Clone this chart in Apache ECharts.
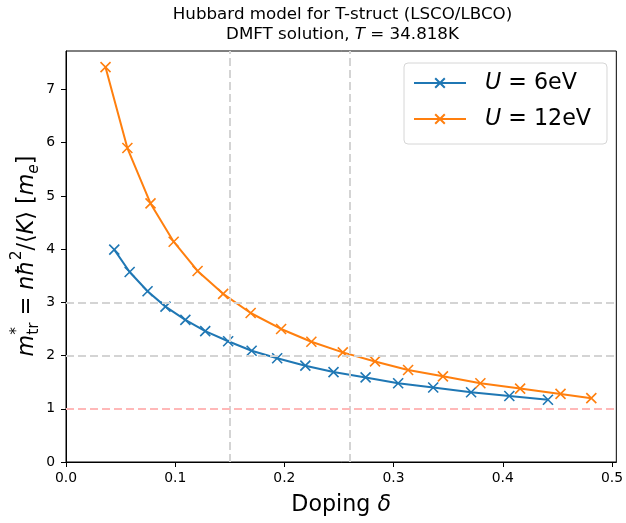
<!DOCTYPE html>
<html>
<head>
<meta charset="utf-8">
<script src="https://cdn.jsdelivr.net/npm/echarts@6/dist/echarts.min.js"></script>
<style>
  html, body { margin: 0; padding: 0; background: #fff; }
  #chart { width: 626px; height: 523px; }
</style>
</head>
<body>
<div id="chart"></div>
<script>
// Effective transport mass vs. hole doping, DMFT results for two Hubbard U values
const dopingU6 = [0.0442, 0.0583, 0.0747, 0.0911, 0.1093, 0.1275, 0.1485, 0.1700, 0.1934,
                  0.2192, 0.2450, 0.2744, 0.3042, 0.3363, 0.3710, 0.4060, 0.4414];
const massU6   = [3.99, 3.57, 3.21, 2.92, 2.67, 2.46, 2.27, 2.09, 1.95,
                  1.81, 1.69, 1.59, 1.48, 1.40, 1.31, 1.24, 1.17];
const dopingU12 = [0.0362, 0.0562, 0.0774, 0.0986, 0.1205, 0.1439, 0.1691, 0.1970, 0.2247,
                   0.2535, 0.2830, 0.3133, 0.3452, 0.3795, 0.4159, 0.4529, 0.4811];
const massU12   = [7.42, 5.90, 4.86, 4.14, 3.59, 3.16, 2.80, 2.50, 2.26,
                   2.06, 1.89, 1.73, 1.61, 1.48, 1.38, 1.28, 1.20];
const seriesNames = ['U = 6eV', 'U = 12eV'];
const xTicks = [0, 0.1, 0.2, 0.3, 0.4, 0.5];
const yTicks = [0, 1, 2, 3, 4, 5, 6, 7];
const guideDoping = [0.15, 0.26];   // vertical guides
const guideMass = [2, 3];           // horizontal guides
const bareMass = 1;                 // m* = m_e reference

const FONT = 'DejaVu Sans';
const BLUE = '#1f77b4';
const ORANGE = '#ff7f0e';
const CROSS = 'path://M0,0L10,10M10,0L0,10';

const chart = echarts.init(document.getElementById('chart'), null, { renderer: 'canvas' });

// ---- rotated y-axis label built from pieces (sub/superscripts) ----
const measureCtx = document.createElement('canvas').getContext('2d');
function textWidth(str, size, italic) {
  measureCtx.font = (italic ? 'italic ' : '') + size + 'px "' + FONT + '"';
  return measureCtx.measureText(str).width;
}
const LS = 22.2, SS = 15.5;
const pieces = [
  { t: 'm', s: LS, it: true, dy: 0 },
  { t: '*', s: SS, it: false, dy: -10, stack: true },
  { t: 'tr', s: SS, it: false, dy: 7 },
  { t: ' = ', s: LS, it: false, dy: 0 },
  { t: 'nħ', s: LS, it: true, dy: 0 },
  { t: '2', s: SS, it: false, dy: -10 },
  { t: '/⟨', s: LS, it: false, dy: 0 },
  { t: 'K', s: LS, it: true, dy: 0 },
  { t: '⟩ [', s: LS, it: false, dy: 0 },
  { t: 'm', s: LS, it: true, dy: 0 },
  { t: 'e', s: SS, it: true, dy: 7 },
  { t: ']', s: LS, it: false, dy: 0 }
];
let cursor = 0;
const yLabelChildren = [];
let stackStart = null;
pieces.forEach(p => {
  const w = textWidth(p.t, p.s, p.it);
  const x = stackStart !== null ? stackStart : cursor;
  yLabelChildren.push({
    type: 'text', x: x, y: p.dy,
    style: {
      text: p.t, fontFamily: FONT, fontSize: p.s, fontStyle: p.it ? 'italic' : 'normal',
      fill: '#000', verticalAlign: 'middle', align: 'left'
    }
  });
  if (p.stack) {
    stackStart = cursor;
    cursor += w;
  } else if (stackStart !== null) {
    cursor = Math.max(cursor, stackStart + w);
    stackStart = null;
  } else {
    cursor += w;
  }
});
const yLabelLength = cursor;

const option = {
  animation: false,
  backgroundColor: '#fff',
  grid: { left: 66, right: 7, top: 51, bottom: 61, show: true, borderColor: '#000', borderWidth: 1 },
  xAxis: {
    type: 'value', min: 0, max: 0.504,
    name: 'Doping {i|δ}', nameLocation: 'middle', nameGap: 32,
    nameTextStyle: {
      fontFamily: FONT, fontSize: 22.2, color: '#000',
      rich: { i: { fontFamily: FONT, fontSize: 22.2, fontStyle: 'italic', color: '#000' } }
    },
    axisLine: { show: true, lineStyle: { color: '#000', width: 1 } },
    axisTick: { show: true, length: 5, lineStyle: { color: '#000', width: 1 }, customValues: xTicks },
    axisLabel: {
      customValues: xTicks, margin: 9, color: '#000', fontFamily: FONT, fontSize: 13.9,
      formatter: v => v.toFixed(1)
    },
    splitLine: { show: false }
  },
  yAxis: {
    type: 'value', min: 0, max: 7.724,
    axisLine: { show: true, lineStyle: { color: '#000', width: 1 } },
    axisTick: { show: true, length: 5, lineStyle: { color: '#000', width: 1 }, customValues: yTicks },
    axisLabel: {
      customValues: yTicks, margin: 11, color: '#000', fontFamily: FONT, fontSize: 13.9,
      formatter: v => String(Math.round(v))
    },
    splitLine: { show: false }
  },
  legend: {
    data: seriesNames,
    orient: 'vertical', left: 404, top: 63,
    itemWidth: 52, itemHeight: 12, itemGap: 10,
    padding: [7, 16, 12, 9],
    backgroundColor: 'rgba(255,255,255,0.8)', borderColor: '#d6d6d6', borderWidth: 1, borderRadius: 4,
    formatter: name => name.replace(/^U/, '{i|U}'),
    textStyle: {
      fontFamily: FONT, fontSize: 22.2, color: '#000', lineHeight: 26, padding: [0, 0, 0, 14],
      rich: { i: { fontFamily: FONT, fontSize: 22.2, fontStyle: 'italic', color: '#000', lineHeight: 26 } }
    }
  },
  series: [
    {
      type: 'line', data: [], silent: true, z: 1,
      markLine: {
        silent: true, symbol: 'none', animation: false,
        label: { show: false },
        lineStyle: { color: '#d4d4d4', type: [8, 4], width: 2 },
        data: [
          ...guideDoping.map(v => ({ xAxis: v })),
          ...guideMass.map(v => ({ yAxis: v })),
          { yAxis: bareMass, lineStyle: { color: '#ffb8b8', type: [8, 4], width: 2 } }
        ]
      }
    },
    {
      name: seriesNames[0], type: 'line', z: 3,
      data: dopingU6.map((d, i) => [d, massU6[i]]),
      symbol: CROSS, symbolSize: 10, showSymbol: true, showAllSymbol: true,
      lineStyle: { color: BLUE, width: 2 },
      itemStyle: { color: BLUE, borderColor: BLUE, borderWidth: 1.6 }
    },
    {
      name: seriesNames[1], type: 'line', z: 3,
      data: dopingU12.map((d, i) => [d, massU12[i]]),
      symbol: CROSS, symbolSize: 10, showSymbol: true, showAllSymbol: true,
      lineStyle: { color: ORANGE, width: 2 },
      itemStyle: { color: ORANGE, borderColor: ORANGE, borderWidth: 1.6 }
    }
  ],
  graphic: [
    {
      type: 'text', x: 342.5, y: 15,
      style: {
        text: 'Hubbard model for T-struct (LSCO/LBCO)', fontFamily: FONT, fontSize: 16.7,
        fill: '#000', align: 'center', verticalAlign: 'middle'
      }
    },
    {
      type: 'text', x: 342.5, y: 35,
      style: {
        text: 'DMFT solution, {i|T} = 34.818K', fontFamily: FONT, fontSize: 16.7,
        fill: '#000', align: 'center', verticalAlign: 'middle',
        rich: { i: { fontFamily: FONT, fontSize: 16.7, fontStyle: 'italic', fill: '#000' } }
      }
    },
    {
      type: 'group', x: 27, y: 256 + yLabelLength / 2, rotation: Math.PI / 2,
      children: yLabelChildren
    }
  ]
};
chart.setOption(option);
</script>
</body>
</html>
